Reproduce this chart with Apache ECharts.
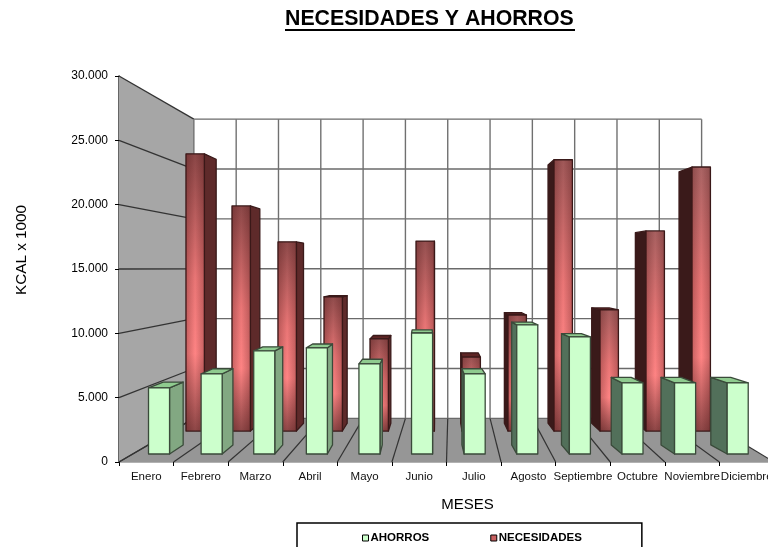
<!DOCTYPE html>
<html>
<head>
<meta charset="utf-8">
<style>html,body{margin:0;padding:0;background:#fff;overflow:hidden}#c{width:768px;height:547px}</style>
<script src="https://cdn.jsdelivr.net/npm/echarts@6/dist/echarts.min.js"></script>
</head>
<body>
<div id="c"></div>
<script>
// Monthly energy figures, in kcal x 1000
const months = ['Enero','Febrero','Marzo','Abril','Mayo','Junio','Julio','Agosto','Septiembre','Octubre','Noviembre','Diciembre'];
const ahorros = [5360,6490,8360,8600,7300,9810,6490,10470,9490,5760,5760,5760];
const necesidades = [25640,20820,17500,12400,8520,17570,6840,10730,25090,11200,18510,24420];
const yTicks = [0,5000,10000,15000,20000,25000,30000];

// Perspective box: depth z maps to scale 1/(1+z) towards the vanishing point
const VP = [452, 268];
const Z_BACK = 0.29;
const ROW_FRONT = { front: 0.043, back: 0.0965, skew: 0.005 };
const ROW_REAR = { front: 0.19, back: 0.25, skew: 0.0025 };
const BAR_FRACTION = 0.2;

function project(p, z) {
  const s = 1 / (1 + z);
  return [VP[0] + (p[0] - VP[0]) * s, VP[1] + (p[1] - VP[1]) * s];
}
function poly(points, style) {
  return { type: 'polygon', shape: { points }, style };
}
function seg(a, b, stroke, lineWidth) {
  return { type: 'line', shape: { x1: a[0], y1: a[1], x2: b[0], y2: b[1] }, style: { stroke, lineWidth, fill: null } };
}

// Walls, floor and grid of the box
function renderBox(params, api) {
  if (params.dataIndex !== 0) return null;
  const band = api.size([1, 0])[0];
  const x0 = api.coord([0, 0])[0] - band / 2;
  const x1 = api.coord([months.length - 1, 0])[0] + band / 2;
  const y0 = api.coord([0, 0])[1];
  const yTop = api.coord([0, yTicks[yTicks.length - 1]])[1];
  const b = (x, y) => project([x, y], Z_BACK);
  const kids = [
    poly([b(x0, yTop), b(x1, yTop), b(x1, y0), b(x0, y0)], { fill: '#fff' }),
    poly([[x0, yTop], b(x0, yTop), b(x0, y0), [x0, y0]], { fill: '#A6A6A6' }),
    poly([[x0, y0], b(x0, y0), b(x1, y0), [x1, y0]], { fill: '#969696' })
  ];
  yTicks.forEach(t => {
    const y = api.coord([0, t])[1];
    kids.push(seg([x0, y], b(x0, y), '#333', 1.3));
    kids.push(seg(b(x0, y), b(x1, y), '#6a6a6a', 1.4));
  });
  for (let i = 0; i <= months.length; i++) {
    const x = x0 + band * i;
    kids.push(seg([x, y0], b(x, y0), '#333', 1.2));
    kids.push(seg(b(x, y0), b(x, yTop), '#707070', 1.4));
  }
  return { type: 'group', children: kids };
}

// One prism per month, seen from the vanishing point
function prismRenderer(row, look) {
  return function (params, api) {
    const i = api.value(0), v = api.value(1);
    const base = api.coord([i, 0]), top = api.coord([i, v]);
    const band = api.size([1, 0])[0];
    const half = band * BAR_FRACTION;
    const l = base[0] - half, r = base[0] + half;
    const left = base[0] - band * (i + 0.5);
    const f = (x, y) => {
      const p = project([x, y], row.front);
      return [p[0] + row.skew * (x - left), p[1]];
    };
    const k = (x, y) => project([x, y], row.back);
    const stroke = { stroke: look.edge, lineWidth: 1.3, lineJoin: 'round' };
    const kids = [];
    if (r < VP[0]) {
      kids.push(poly([f(r, top[1]), k(r, top[1]), k(r, base[1]), f(r, base[1])], { fill: look.sideRight, ...stroke }));
    } else if (l > VP[0]) {
      kids.push(poly([f(l, top[1]), k(l, top[1]), k(l, base[1]), f(l, base[1])], { fill: look.sideLeft, ...stroke }));
    }
    if (f(l, top[1])[1] > VP[1]) {
      kids.push(poly([f(l, top[1]), f(r, top[1]), k(r, top[1]), k(l, top[1])], { fill: look.top, ...stroke }));
    }
    const corners = [f(l, top[1]), f(r, top[1]), f(r, base[1]), f(l, base[1])];
    kids.push(poly(corners, { fill: look.face(i), ...stroke }));
    if (look.sheen) {
      kids.push(poly(corners, { fill: look.sheen }));
    }
    return { type: 'group', children: kids };
  };
}

const greenLook = { face: () => '#CCFFCC', sideRight: '#82A882', sideLeft: '#52705A', top: '#8FCB8F', edge: '#3a4a3a' };
const redTops = ['#8A4646','#8C4848','#8E4A4A','#904C4C','#924E4E','#955050','#985252','#9B5555','#9F5858','#A35C5C','#A76060','#AA6464'];
const redLook = {
  face: i => new echarts.graphic.LinearGradient(0, 0, 0, 1, [
    { offset: 0, color: redTops[i] },
    { offset: 0.45, color: '#EA7676' },
    { offset: 0.72, color: '#FF8484' },
    { offset: 1, color: '#8C4646' }
  ]),
  // Rounded shading across the width of the bar
  sheen: new echarts.graphic.LinearGradient(0, 0, 1, 0, [
    { offset: 0, color: 'rgba(60,10,10,0.28)' },
    { offset: 0.5, color: 'rgba(60,10,10,0)' },
    { offset: 1, color: 'rgba(60,10,10,0.28)' }
  ]),
  sideRight: '#5E2A2A', sideLeft: '#3A1A1A', top: '#5E2525', edge: '#3a1a1a'
};

const font = 'Liberation Sans, Arial, sans-serif';
const chart = echarts.init(document.getElementById('c'), null, { renderer: 'canvas' });
chart.setOption({
  animation: false,
  backgroundColor: '#fff',
  title: {
    text: 'NECESIDADES Y AHORROS', left: 285, top: 9, padding: 0,
    textStyle: { fontFamily: font, fontSize: 21.3, fontWeight: 'bold', color: '#000' }
  },
  grid: { left: 119, top: 76, width: 655, height: 386, containLabel: false, outerBoundsMode: 'none' },
  xAxis: {
    type: 'category', data: months, boundaryGap: true,
    name: 'MESES', nameLocation: 'middle', nameGap: 35,
    nameTextStyle: { fontFamily: font, fontSize: 15, color: '#000', padding: [0, 0, 0, 42] },
    axisLine: { lineStyle: { color: '#999', width: 1.5 } },
    axisTick: { show: true, length: 4, lineStyle: { color: '#000' } },
    axisLabel: { interval: 0, hideOverlap: false, margin: 9, fontFamily: font, fontSize: 11.5, color: '#111' },
    splitLine: { show: false }
  },
  yAxis: {
    type: 'value', min: 0, max: 30000, interval: 5000,
    name: 'KCAL x 1000', nameLocation: 'middle', nameRotate: 90, nameGap: 90,
    nameTextStyle: { fontFamily: font, fontSize: 15.3, color: '#000', padding: [0, 0, 0, 38] },
    axisLine: { show: true, lineStyle: { color: '#333', width: 1.5 } },
    axisTick: { show: true, length: 4, lineStyle: { color: '#000' } },
    axisLabel: {
      margin: 11, fontFamily: font, fontSize: 12, color: '#000',
      formatter: v => String(v).replace(/\B(?=(\d{3})+$)/g, '.')
    },
    splitLine: { show: false }
  },
  legend: {
    left: 297, top: 523, orient: 'horizontal',
    padding: [9, 60, 24, 65], itemGap: 61, itemWidth: 6, itemHeight: 6,
    backgroundColor: '#fff', borderColor: '#000', borderWidth: 1.5, borderRadius: 0,
    textStyle: { fontFamily: font, fontSize: 11.5, fontWeight: 'bold', color: '#000', padding: [0, 0, 0, -3] },
    data: [
      { name: 'AHORROS', icon: 'rect', itemStyle: { color: '#CCFFCC', borderColor: '#000', borderWidth: 1 } },
      { name: 'NECESIDADES', icon: 'rect', itemStyle: { color: '#C86060', borderColor: '#000', borderWidth: 1 } }
    ]
  },
  graphic: [{
    type: 'rect', left: 285, top: 29, shape: { width: 290, height: 2 }, style: { fill: '#000' }, z: 10
  }],
  series: [
    { type: 'custom', name: 'caja', z: 1, silent: true, renderItem: renderBox, data: [[0, 0]], encode: { x: 0, y: 1 } },
    { type: 'custom', name: 'NECESIDADES', z: 2, renderItem: prismRenderer(ROW_REAR, redLook), data: necesidades.map((v, i) => [i, v]), encode: { x: 0, y: 1 } },
    { type: 'custom', name: 'AHORROS', z: 3, renderItem: prismRenderer(ROW_FRONT, greenLook), data: ahorros.map((v, i) => [i, v]), encode: { x: 0, y: 1 } }
  ]
});
</script>
</body>
</html>
